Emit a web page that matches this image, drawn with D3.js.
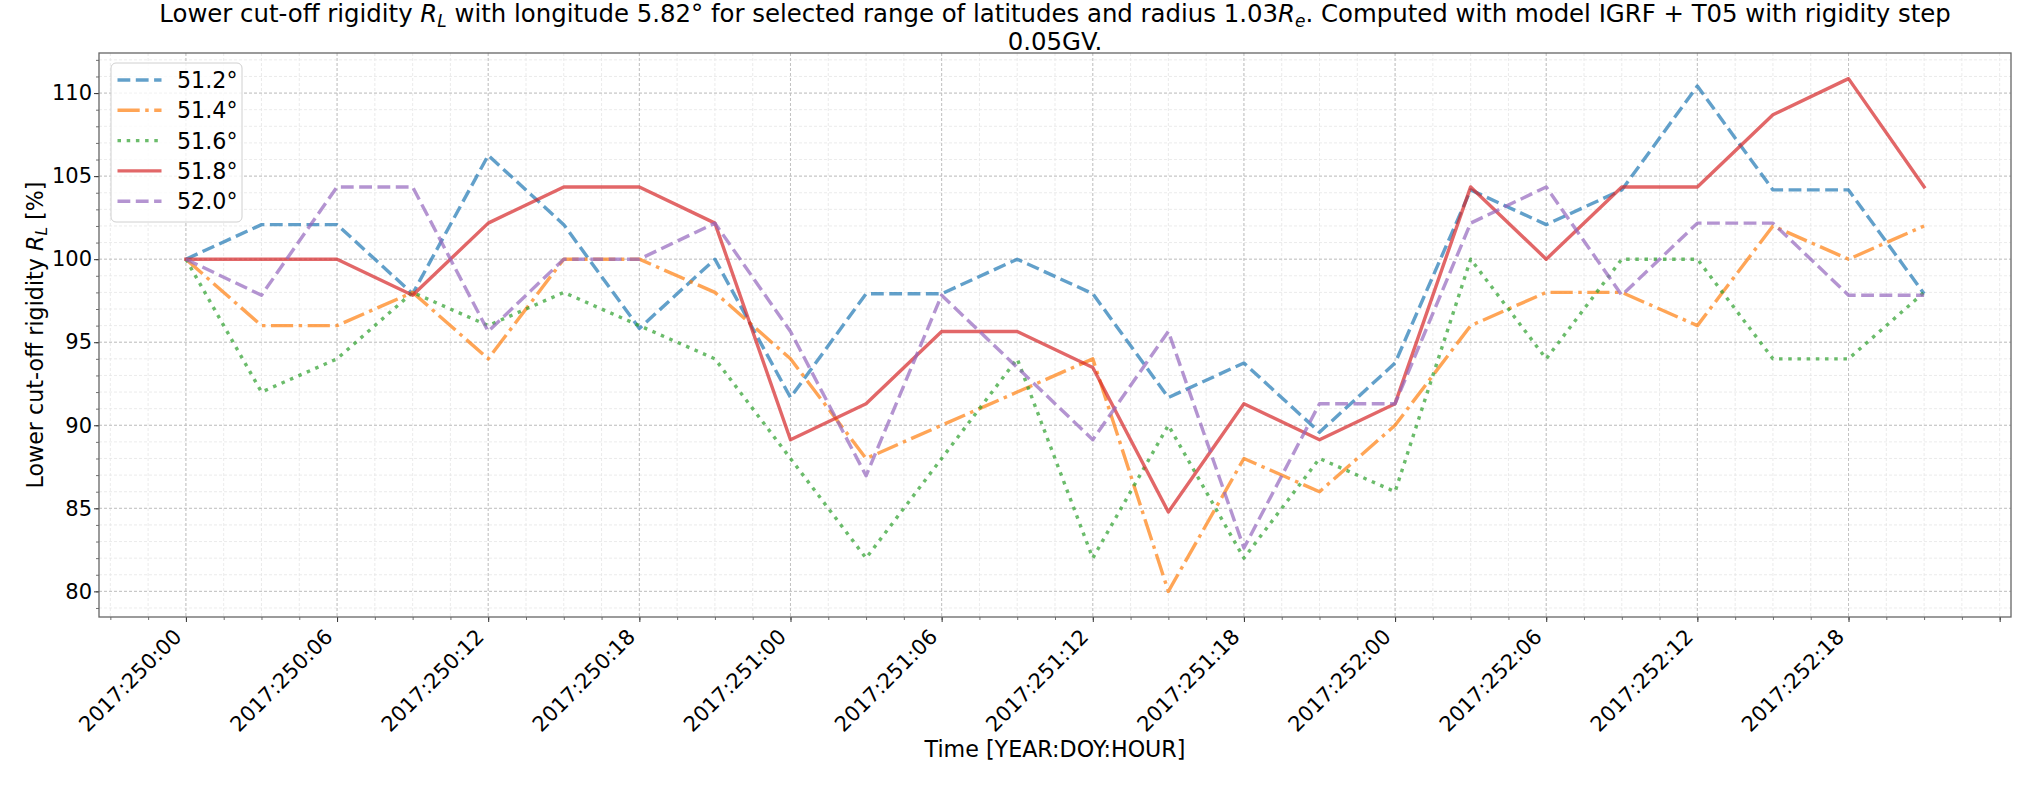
<!DOCTYPE html>
<html><head><meta charset="utf-8">
<script src="https://cdn.jsdelivr.net/npm/d3@7"></script>
<style>
body{margin:0;background:#fff}
svg{display:block}
text{font-family:"DejaVu Sans",sans-serif;fill:#000}
</style>
</head><body>
<svg id="c" width="2034" height="785"></svg>
<script>
// ---- data ----
const hours = [0,3,6,9,12,15,18,21,24,27,30,33,36,39,42,45,48,51,54,57,60,63,66,69];
const lat512 = [100,102.08,102.08,97.92,106.25,102.08,95.83,100,91.67,97.92,97.92,100,97.92,91.67,93.75,89.58,93.75,104.17,102.08,104.17,110.42,104.17,104.17,97.92];
const lat514 = [100,96,96,98,94,100,100,98,94,88,90,92,94,80,88,86,90,96,98,98,96,102,100,102];
const lat516 = [100,92,94,98,96,98,96,94,88,82,88,94,82,90,82,88,86,100,94,100,100,94,94,98];
const lat518 = [100,100,100,97.83,102.17,104.35,104.35,102.17,89.13,91.30,95.65,95.65,93.48,84.78,91.30,89.13,91.30,104.35,100,104.35,104.35,108.70,110.87,104.35];
const lat520 = [100,97.83,104.35,104.35,95.65,100,100,102.17,95.65,86.96,97.83,93.48,89.13,95.65,82.61,91.30,91.30,102.17,104.35,97.83,102.17,102.17,97.83,97.83];
const seriesNames = ["51.2°","51.4°","51.6°","51.8°","52.0°"];
const seriesColors = ["#1f77b4","#ff7f0e","#2ca02c","#d62728","#9467bd"];
const seriesDash = ["12.8,5.5","22.2,5.5,3.5,5.5","3.5,5.7",null,"12.8,5.5"];
const xTickHours = [0,6,12,18,24,30,36,42,48,54,60,66,72];
const xTickLabels = ["2017:250:00","2017:250:06","2017:250:12","2017:250:18","2017:251:00","2017:251:06","2017:251:12","2017:251:18","2017:252:00","2017:252:06","2017:252:12","2017:252:18",""];
const yTicks = [80,85,90,95,100,105,110];

const series = [lat512,lat514,lat516,lat518,lat520];

// ---- layout ----
const L=99, R=2011, T=53, B=617;
const FS=22.2, TK=21;
const svg = d3.select("#c");

const xExt = d3.extent(hours), xPad=(xExt[1]-xExt[0])*0.05;
const allV = series.flat();
const yExt = d3.extent(allV), yPad=(yExt[1]-yExt[0])*0.05;
const x = d3.scaleLinear().domain([xExt[0]-xPad, xExt[1]+xPad]).range([L,R]);
const y = d3.scaleLinear().domain([yExt[0]-yPad, yExt[1]+yPad]).range([B,T]);

// minor grid
const xMinor = d3.range(-3, 72.01, 1.5);
const yMinor = d3.range(79, 112.01, 1);
const grid = svg.append("g");
grid.selectAll(".xm").data(xMinor).enter().append("line")
  .attr("x1",d=>x(d)).attr("x2",d=>x(d)).attr("y1",T).attr("y2",B)
  .attr("stroke","#e6e6e6").attr("stroke-width",0.8).attr("stroke-dasharray","3,2");
grid.selectAll(".ym").data(yMinor).enter().append("line")
  .attr("y1",d=>y(d)).attr("y2",d=>y(d)).attr("x1",L).attr("x2",R)
  .attr("stroke","#e6e6e6").attr("stroke-width",0.8).attr("stroke-dasharray","3,2");
// major grid
grid.selectAll(".xg").data(xTickHours.slice(0,12)).enter().append("line")
  .attr("x1",d=>x(d)).attr("x2",d=>x(d)).attr("y1",T).attr("y2",B)
  .attr("stroke","#bdbdbd").attr("stroke-width",0.9).attr("stroke-dasharray","3,2");
grid.selectAll(".yg").data(yTicks).enter().append("line")
  .attr("y1",d=>y(d)).attr("y2",d=>y(d)).attr("x1",L).attr("x2",R)
  .attr("stroke","#bdbdbd").attr("stroke-width",0.9).attr("stroke-dasharray","3,2");

// lines
const line = d3.line().x((d,i)=>x(hours[i])).y(d=>y(d));
series.forEach((s,k)=>{
  svg.append("path").datum(s).attr("d",line)
    .attr("fill","none").attr("stroke",seriesColors[k]).attr("stroke-opacity",0.7)
    .attr("stroke-width",3.4).attr("stroke-linejoin","round")
    .attr("stroke-linecap", seriesDash[k]?"butt":"square")
    .attr("stroke-dasharray",seriesDash[k]);
});

// axes
const xAxis = d3.axisBottom(x).tickValues(xTickHours).tickFormat((d,i)=>xTickLabels[i]).tickSize(5).tickPadding(5);
const gx = svg.append("g").attr("transform",`translate(0,${B})`).call(xAxis);
gx.select(".domain").remove();
gx.selectAll("line").attr("stroke","#333").attr("stroke-width",1);
gx.selectAll("text").attr("font-size",TK).attr("text-anchor","end")
  .attr("dy","0").attr("y",0).attr("x",0)
  .attr("transform","translate(-3.5,21) rotate(-45)");
const xMinorAxis = d3.axisBottom(x).tickValues(xMinor).tickFormat("").tickSize(3);
const gxm = svg.append("g").attr("transform",`translate(0,${B})`).call(xMinorAxis);
gxm.select(".domain").remove();
gxm.selectAll("line").attr("stroke","#333").attr("stroke-width",0.7);

const yAxis = d3.axisLeft(y).tickValues(yTicks).tickSize(5).tickPadding(2);
const gy = svg.append("g").attr("transform",`translate(${L},0)`).call(yAxis);
gy.select(".domain").remove();
gy.selectAll("line").attr("stroke","#333").attr("stroke-width",1);
gy.selectAll("text").attr("font-size",TK);
const yMinorAxis = d3.axisLeft(y).tickValues(yMinor).tickFormat("").tickSize(3);
const gym = svg.append("g").attr("transform",`translate(${L},0)`).call(yMinorAxis);
gym.select(".domain").remove();
gym.selectAll("line").attr("stroke","#333").attr("stroke-width",0.7);

// frame
svg.append("rect").attr("x",L).attr("y",T).attr("width",R-L).attr("height",B-T)
  .attr("fill","none").attr("stroke","#666").attr("stroke-width",1.3);

// title
const TS=24.4;
const title = svg.append("text").attr("x",(L+R)/2).attr("y",22).attr("text-anchor","middle").attr("font-size",TS);
title.append("tspan").text("Lower cut-off rigidity ");
title.append("tspan").attr("font-style","italic").text("R");
title.append("tspan").attr("font-style","italic").attr("font-size",17).attr("dy",5).text("L");
title.append("tspan").attr("dy",-5).text(" with longitude 5.82° for selected range of latitudes and radius 1.03");
title.append("tspan").attr("font-style","italic").text("R");
title.append("tspan").attr("font-style","italic").attr("font-size",17).attr("dy",5).text("e");
title.append("tspan").attr("dy",-5).text(". Computed with model IGRF + T05 with rigidity step");
svg.append("text").attr("x",(L+R)/2).attr("y",50).attr("text-anchor","middle").attr("font-size",TS).text("0.05GV.");

// axis labels
svg.append("text").attr("x",(L+R)/2).attr("y",757).attr("text-anchor","middle").attr("font-size",FS).text("Time [YEAR:DOY:HOUR]");
const yl = svg.append("text").attr("transform",`translate(43,${(T+B)/2}) rotate(-90)`).attr("text-anchor","middle").attr("font-size",FS);
yl.append("tspan").text("Lower cut-off rigidity ");
yl.append("tspan").attr("font-style","italic").text("R");
yl.append("tspan").attr("font-style","italic").attr("font-size",15.5).attr("dy",4).text("L");
yl.append("tspan").attr("dy",-4).text(" [%]");

// legend
const lg = svg.append("g");
lg.append("rect").attr("x",111).attr("y",63).attr("width",131).attr("height",159).attr("rx",5)
  .attr("fill","#fff").attr("fill-opacity",0.8).attr("stroke","#d0d0d0").attr("stroke-width",1);
seriesNames.forEach((n,k)=>{
  const ry = 80 + k*30.3;
  lg.append("line").attr("x1",117.5).attr("x2",161.5).attr("y1",ry).attr("y2",ry)
    .attr("stroke",seriesColors[k]).attr("stroke-opacity",0.7).attr("stroke-width",3.4)
    .attr("stroke-dasharray",seriesDash[k]);
  lg.append("text").attr("x",177).attr("y",ry+8.1).attr("font-size",FS).text(n);
});
</script>
</body></html>
